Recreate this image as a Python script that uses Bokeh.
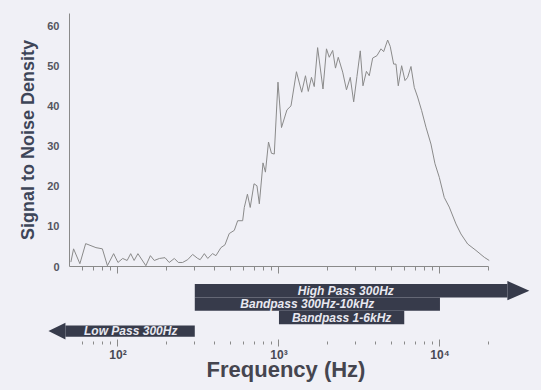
from bokeh.plotting import figure
from bokeh.models import FixedTicker, Range1d
from bokeh.core.properties import value
from bokeh.embed import file_html
from bokeh.resources import INLINE

# ---------------- data ----------------
freq_hz = [51, 53, 58, 63, 73, 80, 86, 94, 100, 107, 114, 120, 126, 133, 149, 159, 168, 181,
           196, 208, 224, 237, 252, 271, 291, 313, 324, 344, 361, 387, 406, 436, 462, 491,
           528, 554, 595, 609, 637, 663, 700, 730, 755, 796, 824, 861, 898, 935, 986, 1037,
           1121, 1188, 1284, 1384, 1461, 1521, 1592, 1656, 1738, 1877, 1973, 2053, 2156, 2244,
           2335, 2488, 2626, 2773, 2911, 3050, 3199, 3325, 3493, 3638, 3819, 4061, 4302, 4470,
           4732, 4910, 5156, 5330, 5508, 5781, 6064, 6299, 6606, 6925, 7264, 7697, 8185, 8790,
           9311, 9905, 10630, 11420, 12570, 13500, 14860, 16740, 18840, 20230]
snr = [1.1, 4.4, 0.7, 5.7, 4.7, 4.4, 0.2, 3.2, 1.0, 2.0, 1.5, 3.2, 1.5, 3.2, 0.2, 2.7, 1.5, 2.0,
       2.2, 1.0, 2.0, 1.0, 1.0, 1.7, 3.0, 2.0, 1.7, 3.2, 2.0, 3.2, 2.7, 4.7, 5.4, 8.2,
       9.0, 11.4, 11.4, 14.7, 18.0, 14.7, 20.6, 20.1, 15.6, 25.8, 23.5, 31.0, 28.2, 28.0, 45.9, 34.6,
       39.0, 40.0, 48.5, 43.4, 47.5, 43.6, 47.1, 44.8, 54.5, 44.2, 54.2, 52.1, 53.8, 49.4,
       52.1, 48.4, 44.0, 47.1, 41.0, 47.3, 53.7, 45.0, 48.6, 47.5, 51.9, 52.5, 54.2, 53.5,
       56.4, 54.8, 50.4, 50.4, 45.0, 50.0, 46.3, 47.1, 49.8, 44.6, 42.2, 38.8, 34.7, 30.5,
       25.6, 22.2, 17.2, 14.8, 10.6, 8.1, 5.6, 4.0, 2.3, 1.5]

band_labels = ["High Pass 300Hz", "Bandpass 300Hz-10kHz", "Bandpass 1-6kHz", "Low Pass 300Hz"]
band_low_hz = [300, 300, 1000, None]      # None: open towards low frequencies
band_high_hz = [None, 10000, 6000, 300]   # None: open towards high frequencies
band_label_hz = [2600, 1500, 2450, 120]

y_ticks = [0, 10, 20, 30, 40, 50, 60]
x_major_ticks = [100, 1000, 10000]
x_major_labels = ["10²", "10³", "10⁴"]
x_minor_ticks = [m * 10 ** e for e in (1, 2, 3, 4) for m in range(2, 10) if 60 <= m * 10 ** e <= 20000]

# ---------------- style / geometry ----------------
BG = "#f0f0f6"
FONT = "Liberation Sans"
BAR = "#373b4b"
FIG_W = 525
PX_PER_DECADE = 161.0
TOP_LEFT, BOT_LEFT, RIGHT = 61, 32, 2
TOP_FRAME_W = FIG_W - TOP_LEFT - RIGHT
BOT_FRAME_W = FIG_W - BOT_LEFT - RIGHT
X_START_TOP = 50.0
X_END = X_START_TOP * 10 ** (TOP_FRAME_W / PX_PER_DECADE)
X_START_BOT = X_END / 10 ** (BOT_FRAME_W / PX_PER_DECADE)

# ---------------- top plot ----------------
top = figure(x_axis_type="log", x_range=Range1d(X_START_TOP, X_END), y_range=Range1d(0, 63),
             width=FIG_W, height=268,
             min_border_left=TOP_LEFT, min_border_right=RIGHT, min_border_top=5, min_border_bottom=10,
             output_backend="svg", toolbar_location=None)
top.background_fill_color = BG
top.border_fill_color = BG
top.outline_line_color = None
top.grid.visible = False

top.line(freq_hz, snr, line_color="#8a8a8a", line_width=1)

ya = top.yaxis[0]
ya.ticker = FixedTicker(ticks=y_ticks)
ya.axis_line_color = "#8a8a8a"
ya.major_tick_line_color = None
ya.minor_tick_line_color = None
ya.major_label_standoff = 4
ya.major_label_text_font = FONT
ya.major_label_text_font_style = "bold"
ya.major_label_text_font_size = "11px"
ya.major_label_text_color = "#55555f"
ya.axis_label = "Signal to Noise Density"
ya.axis_label_text_font = FONT
ya.axis_label_text_font_style = "bold"
ya.axis_label_text_font_size = "18px"
ya.axis_label_text_color = "#3d4558"
ya.axis_label_standoff = 6

xa = top.xaxis[0]
xa.ticker = FixedTicker(ticks=x_major_ticks, minor_ticks=x_minor_ticks)
xa.bounds = (X_START_TOP, 20000)
xa.axis_line_color = "#8a8a8a"
xa.major_tick_line_color = "#8a8a8a"
xa.minor_tick_line_color = "#8a8a8a"
xa.major_tick_in = 0
xa.major_tick_out = 7
xa.minor_tick_in = 0
xa.minor_tick_out = 4
xa.major_label_text_font_size = "1px"
xa.major_label_text_alpha = 0
xa.major_label_standoff = 0

# ---------------- bottom (filter arrows) ----------------
bot = figure(x_axis_type="log", x_range=Range1d(X_START_BOT, X_END), y_range=Range1d(3.85, -1.05),
             width=FIG_W, height=108,
             min_border_left=BOT_LEFT, min_border_right=RIGHT, min_border_top=0, min_border_bottom=38,
             y_axis_location=None, output_backend="svg", toolbar_location=None)
bot.background_fill_color = BG
bot.border_fill_color = BG
bot.outline_line_color = None
bot.grid.visible = False

high_tip = X_END * 0.97
high_head = high_tip / 10 ** (22 / PX_PER_DECADE)
low_tip = X_START_BOT * 1.12
low_head = low_tip * 10 ** (17 / PX_PER_DECADE)

lefts, rights, tops, bottoms = [], [], [], []
hx, hy = [], []
for row, (lo, hi) in enumerate(zip(band_low_hz, band_high_hz)):
    half = 0.5 if lo is not None else 0.42
    left = lo if lo is not None else low_head
    right = hi if hi is not None else high_head
    lefts.append(left); rights.append(right)
    tops.append(row - half); bottoms.append(row + half)
    if hi is None:
        hx.append([high_head, high_tip, high_head]); hy.append([row - 0.72, row, row + 0.72])
    if lo is None:
        hx.append([low_head, low_tip, low_head]); hy.append([row - 0.62, row, row + 0.62])

bot.quad(left=lefts, right=rights, top=tops, bottom=bottoms, fill_color=BAR, line_color=None)
bot.patches(hx, hy, fill_color=BAR, line_color=None)
bot.text(x=band_label_hz, y=list(range(len(band_labels))), text=band_labels,
         text_font=value(FONT), text_font_style="bold italic", text_font_size="12px",
         text_color="#e8e8f0", text_align="center", text_baseline="middle")

ba = bot.xaxis[0]
ba.ticker = FixedTicker(ticks=x_major_ticks, minor_ticks=x_minor_ticks)
ba.major_label_overrides = dict(zip(x_major_ticks, x_major_labels))
ba.axis_line_color = None
ba.major_tick_line_color = "#8a8a8a"
ba.minor_tick_line_color = "#8a8a8a"
ba.major_tick_in = 3
ba.major_tick_out = 4
ba.minor_tick_in = 1
ba.minor_tick_out = 2
ba.major_label_standoff = 1
ba.major_label_text_font = FONT
ba.major_label_text_font_style = "bold"
ba.major_label_text_font_size = "12px"
ba.major_label_text_color = "#4a4a55"
ba.axis_label = "Frequency (Hz)"
ba.axis_label_text_font = FONT
ba.axis_label_text_font_style = "bold"
ba.axis_label_text_font_size = "22px"
ba.axis_label_text_color = "#45454f"
ba.axis_label_standoff = -8

html = file_html([top, bot], INLINE)
style = ("<style>html, body { margin: 0; padding: 0; width: auto !important; height: auto !important; "
         "background-color: #f0f0f6; overflow: hidden; } "
         "body { margin: 8px !important; display: flex; flex-direction: column; align-items: flex-start; }</style>")
html = html.replace("</head>", style + "</head>", 1)
open("out.html", "w").write(html)
